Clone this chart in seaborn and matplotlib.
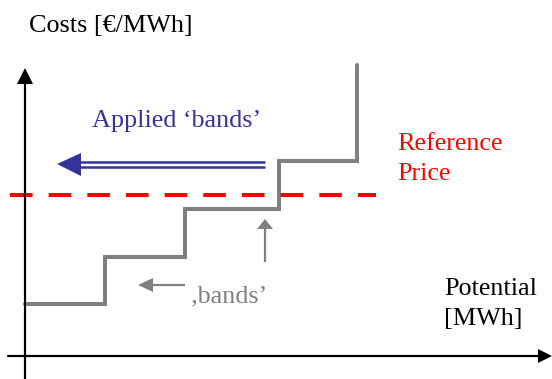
import matplotlib
matplotlib.use("Agg")
import matplotlib.pyplot as plt
import seaborn as sns
import pandas as pd

# Merit-order supply curve: potential breakpoints and cost level of each band
potential = [0, 80, 160, 254, 332]
cost = [52, 99, 147, 195, 291]
reference_price = 161

axis_label_y = "Costs [€/MWh]"
axis_label_x = ["Potential", "[MWh]"]
applied_label = "Applied ‘bands’"
bands_label = "‚bands’"
reference_label = ["Reference", "Price"]

GRAY = "#808080"
BLUE = "#333399"
RED = "#ff0000"

sns.set_style("white")
plt.rcParams["font.family"] = ["Liberation Serif", "DejaVu Serif"]

fig = plt.figure(figsize=(5.52, 3.79), dpi=100)
ax = fig.add_axes([0, 0, 1, 1])
ax.set_xlim(-25, 527)
ax.set_ylim(-23, 356)
ax.axis("off")

# stepped cost curve
df = pd.DataFrame({"potential": potential, "cost": cost})
sns.lineplot(data=df, x="potential", y="cost", drawstyle="steps-post",
             color=GRAY, linewidth=2.9, ax=ax, solid_joinstyle="miter")

# reference price level
ref = pd.DataFrame({"potential": [-15, 351], "cost": [reference_price] * 2})
sns.lineplot(data=ref, x="potential", y="cost", color=RED, linewidth=2.9,
             ax=ax)
ax.lines[-1].set_dashes((5.6, 4.0))
ax.lines[-1].set_dash_capstyle("butt")

# coordinate axes with arrow heads
ax.plot([0, 0], [-23, 280], color="black", linewidth=1.6)
ax.fill([-8, 0, 8], [272, 288, 272], color="black", lw=0)
ax.plot([-17, 515], [0, 0], color="black", linewidth=1.6)
ax.fill([513, 527, 513], [7, 0, -7], color="black", lw=0)

# double-shafted "applied bands" arrow
for yy in (194, 189):
    ax.plot([54, 240], [yy, yy], color=BLUE, linewidth=1.8, solid_capstyle="butt")
ax.fill([56, 32, 56], [203, 192, 180], color=BLUE, lw=0)

# small gray pointers
ax.plot([126, 160], [71, 71], color=GRAY, linewidth=1.6, solid_capstyle="butt")
ax.fill([128, 113, 128], [78, 71, 64], color=GRAY, lw=0)
ax.plot([240, 240], [94, 130], color=GRAY, linewidth=1.6, solid_capstyle="butt")
ax.fill([232, 240, 248], [127, 137, 127], color=GRAY, lw=0)

# annotations
fs = 18.8
ax.text(4, 324, axis_label_y, fontsize=fs, color="black", va="baseline")
ax.text(67, 229, applied_label, fontsize=fs, color=BLUE, va="baseline")
for line, yb in zip(reference_label, (206, 176)):
    ax.text(372, yb, line, fontsize=fs, color=RED, va="baseline")
for line, yb in zip(axis_label_x, (61, 31)):
    ax.text(419, yb, line, fontsize=fs, color="black", va="baseline")
ax.text(165, 54, bands_label, fontsize=fs, color=GRAY, va="baseline")

fig.savefig("out.png", dpi=100)
